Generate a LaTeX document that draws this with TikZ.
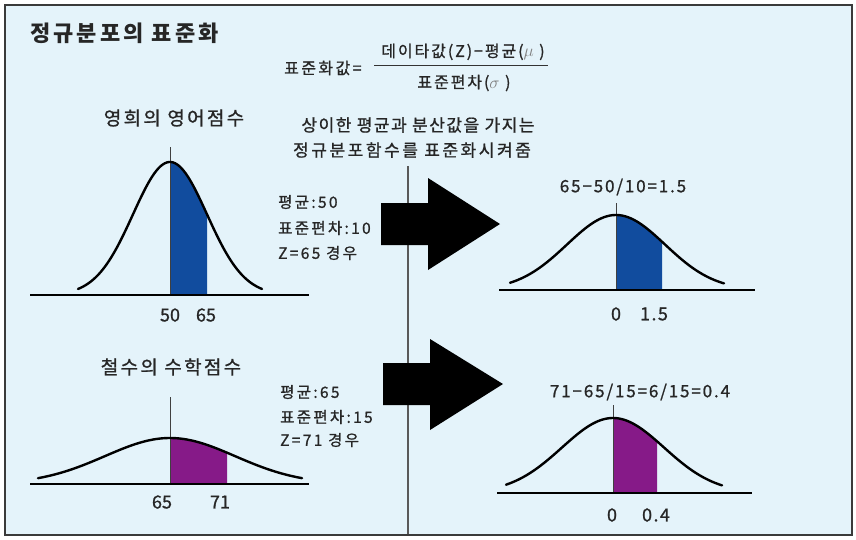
\documentclass[tikz,border=0pt]{standalone}
\usepackage{fontspec}
\setmainfont{Noto Sans CJK KR}[FakeBold=1.0]
\newcommand{\lsp}[1]{\addfontfeature{LetterSpace=#1}}
\definecolor{bgblue}{HTML}{E4F3FA}
\definecolor{frame}{HTML}{3A3A3A}
\definecolor{fillblue}{HTML}{114C9E}
\definecolor{fillpurple}{HTML}{861A88}
\tikzset{
  curve/.style={line width=2.4pt, black, line cap=round},
  axisline/.style={line width=2.4pt, black},
  peak/.style={line width=0.9pt, black!75},
  txt/.style={inner sep=0pt, text=black!85},
  bigarrow/.style={fill=black},
}
\begin{document}
\begin{tikzpicture}[x=1pt,y=-1pt]
\useasboundingbox (0,0) rectangle (856,539);
\fill[white] (0,0) rectangle (856,539);
\draw[fill=bgblue, draw=frame, line width=2pt] (5,5) rectangle (852,535);

% titles and texts
\node[txt, font=\fontsize{22}{24}\selectfont\bfseries\addfontfeature{FakeBold=0}\lsp{14}, anchor=west] (title) at (30,33) {정규분포의 표준화};
\node[txt, font=\fontsize{16}{18}\selectfont\lsp{15}, anchor=west] (zlhs) at (284,68) {표준화값=};
\node[txt, font=\fontsize{16}{18}\selectfont\lsp{12}] (num) at (463,52) {데이타값(Z)−평균({\color{black!50}$\mu$} )};
\node[txt, font=\fontsize{16}{18}\selectfont\lsp{12}] (den) at (464,83) {표준편차({\color{black!50}$\sigma$} )};
\draw[line width=0.8pt, black!80] (374,65) -- (548,65);

\node[txt, font=\fontsize{19}{21}\selectfont\lsp{12}] (h1) at (174,118) {영희의 영어점수};
\node[txt, font=\fontsize{19}{21}\selectfont\lsp{12}] (h2) at (171,367) {철수의 수학점수};

\node[txt, font=\fontsize{17}{19}\selectfont\lsp{9}] (d1) at (418,125) {상이한 평균과 분산값을 가지는};
\node[txt, font=\fontsize{17}{19}\selectfont\lsp{15}] (d2) at (412,150) {정규분포함수를 표준화시켜줌};

\node[txt, font=\fontsize{15.5}{17}\selectfont\lsp{15}, anchor=west] (s1a) at (278,202) {평균:50};
\node[txt, font=\fontsize{15.5}{17}\selectfont\lsp{15}, anchor=west] (s1b) at (278,228) {표준편차:10};
\node[txt, font=\fontsize{15.5}{17}\selectfont\lsp{15}, anchor=west] (s1c) at (278,253) {Z=65 경우};
\node[txt, font=\fontsize{15.5}{17}\selectfont\lsp{15}, anchor=west] (s2a) at (280,392) {평균:65};
\node[txt, font=\fontsize{15.5}{17}\selectfont\lsp{15}, anchor=west] (s2b) at (280,417) {표준편차:15};
\node[txt, font=\fontsize{15.5}{17}\selectfont\lsp{15}, anchor=west] (s2c) at (280,440) {Z=71 경우};

% center vertical line
\coordinate (vtop) at (408,166);
\coordinate (vbot) at (408,534);
\draw[line width=1.2pt, black!65] (vtop) -- (vbot);

% arrows
\fill[bigarrow] (381,203) -- (428,203) -- (428,178) -- (500,224) -- (428,270) -- (428,245) -- (381,245) -- cycle;
\fill[bigarrow] (383,363) -- (430,363) -- (430,339) -- (503,384) -- (430,430) -- (430,405) -- (383,405) -- cycle;

% ---- top-left curve: center 170, axis 295
\fill[fillblue] (170,295) -- plot[domain=170:207, samples=30] (\x, {295-133*exp(-0.5*((\x-170)/37)^2)}) -- (207,295) -- cycle;
\draw[peak] (170,147) -- (170,295);
\draw[curve] plot[domain=78:262, samples=90, smooth] (\x, {295-133*exp(-0.5*((\x-170)/37)^2)});
\draw[axisline] (30,295) -- (309,295);
\node[txt, font=\fontsize{18}{20}\selectfont] (l50) at (170,315) {50};
\node[txt, font=\fontsize{18}{20}\selectfont] (l65) at (206,315) {65};

% ---- top-right curve: center 616, axis 290
\fill[fillblue] (616,290) -- plot[domain=616:662, samples=30] (\x, {290-75*exp(-0.5*((\x-616)/49)^2)}) -- (662,290) -- cycle;
\draw[peak] (616,203) -- (616,290);
\draw[curve] plot[domain=510:724, samples=90, smooth] (\x, {290-75*exp(-0.5*((\x-616)/49)^2)});
\draw[axisline] (499,290) -- (755,290);
\node[txt, font=\fontsize{17}{19}\selectfont\lsp{11}] (e1) at (623,187) {65−50/10=1.5};
\node[txt, font=\fontsize{18}{20}\selectfont] (r0a) at (616,314) {0};
\node[txt, font=\fontsize{18}{20}\selectfont\lsp{8}] (r15) at (654,314) {1.5};

% ---- bottom-left curve: center 170, axis 484
\fill[fillpurple] (170,484) -- plot[domain=170:227, samples=30] (\x, {484-46*exp(-0.5*((\x-170)/65)^2)}) -- (227,484) -- cycle;
\draw[peak] (170,397) -- (170,484);
\draw[curve] plot[domain=38:302, samples=90, smooth] (\x, {484-46*exp(-0.5*((\x-170)/65)^2)});
\draw[axisline] (30,484) -- (309,484);
\node[txt, font=\fontsize{18}{20}\selectfont] (l65b) at (162,502) {65};
\node[txt, font=\fontsize{18}{20}\selectfont] (l71) at (220,502) {71};

% ---- bottom-right curve: center 613, axis 493
\fill[fillpurple] (613,493) -- plot[domain=613:657, samples=30] (\x, {493-75*exp(-0.5*((\x-613)/51)^2)}) -- (657,493) -- cycle;
\draw[peak] (613,405) -- (613,493);
\draw[curve] plot[domain=506:722, samples=90, smooth] (\x, {493-75*exp(-0.5*((\x-613)/51)^2)});
\draw[axisline] (497,493) -- (752,493);
\node[txt, font=\fontsize{17}{19}\selectfont\lsp{11}] (e2) at (640,392) {71−65/15=6/15=0.4};
\node[txt, font=\fontsize{18}{20}\selectfont] (r0b) at (612,515) {0};
\node[txt, font=\fontsize{18}{20}\selectfont\lsp{8}] (r04) at (656,515) {0.4};
\end{tikzpicture}
\end{document}
